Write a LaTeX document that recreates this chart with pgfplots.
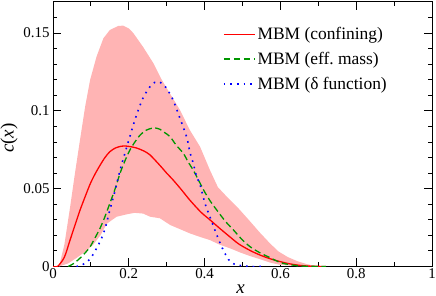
\documentclass[border=0pt]{standalone}
\usepackage{fontspec}
\setmainfont{Liberation Serif}
\usepackage{pgfplots}
\pgfplotsset{compat=1.18}
\usepgfplotslibrary{fillbetween}
\usetikzlibrary{calc}
\definecolor{bandpink}{RGB}{255,180,180}
\definecolor{mgreen}{RGB}{0,150,0}
\begin{document}
\begin{tikzpicture}
\begin{axis}[
  scale only axis, width=379bp, height=264.5bp,
  xmin=0, xmax=1, ymin=0, ymax=0.17,
  xtick={0,0.2,0.4,0.6,0.8,1}, xticklabels={0,0.2,0.4,0.6,0.8,1},
  minor xtick={0.1,0.3,0.5,0.7,0.9},
  ytick={0,0.05,0.1,0.15}, yticklabels={0,0.05,0.1,0.15},
  minor ytick={0.01,0.02,0.03,0.04,0.06,0.07,0.08,0.09,0.11,0.12,0.13,0.14,0.16},
  tick align=inside, major tick length=8bp, minor tick length=4bp,
  every tick/.style={black, line width=0.9bp},
  axis line style={line width=1bp},
  ticklabel style={font=\fontsize{15}{18}\selectfont},
  xticklabel style={inner sep=1.5bp},
  xlabel={\textit{x}}, ylabel={\textit{c}(\textit{x})},
  label style={font=\fontsize{19}{22}\selectfont},
  xlabel style={at={(axis description cs:0.495,0)}, anchor=base, yshift=-26.5bp},
  ylabel style={at={(axis description cs:-0.116,0.485)}, anchor=center},
  legend cell align=left,
  legend image code/.code={\draw[#1] (0bp,0bp) -- (31bp,0bp);},
  legend style={draw=none, fill=none, font=\fontsize{17.5}{20}\selectfont,
    at={(axis description cs:0.44,0.92)}, anchor=north west,
    row sep=7bp},
]
% band
\addplot[name path=up, draw=none, forget plot] coordinates {
(0.016,0) (0.03,0.014) (0.045,0.038) (0.058,0.060) (0.071,0.081) (0.085,0.103)
(0.098,0.120) (0.115,0.135) (0.133,0.1467) (0.15,0.152) (0.172,0.1546)
(0.185,0.1548) (0.2,0.153) (0.212,0.150) (0.238,0.141) (0.265,0.1306)
(0.287,0.120) (0.309,0.111) (0.335,0.1006) (0.361,0.0877) (0.388,0.077)
(0.414,0.062) (0.435,0.051) (0.46,0.0445) (0.487,0.038) (0.52,0.029)
(0.545,0.022) (0.57,0.0155) (0.594,0.0098) (0.62,0.006) (0.646,0.0033)
(0.67,0.0015) (0.69,0.0005) (0.71,0)};
\addplot[name path=lo, draw=none, forget plot] coordinates {
(0.016,0) (0.04,0.002) (0.062,0.0055) (0.085,0.0095) (0.106,0.014)
(0.125,0.020) (0.142,0.0275) (0.168,0.032) (0.194,0.0335) (0.215,0.0345)
(0.238,0.034) (0.256,0.032) (0.282,0.031) (0.309,0.0267) (0.335,0.024)
(0.361,0.0213) (0.388,0.019) (0.414,0.017) (0.44,0.014) (0.467,0.0117)
(0.494,0.009) (0.52,0.0067) (0.546,0.0047) (0.573,0.0025) (0.6,0.001)
(0.65,0.0002) (0.71,0)};
\addplot[fill=bandpink, draw=none, forget plot] fill between[of=up and lo];
% confining
\addplot[color=red, line width=1.3bp, smooth] coordinates {
(0,0) (0.012,0) (0.03,0.006) (0.045,0.017) (0.06,0.028) (0.071,0.036)
(0.085,0.045) (0.098,0.053) (0.11,0.059) (0.124,0.065) (0.137,0.070)
(0.15,0.0738) (0.165,0.0762) (0.18,0.0773) (0.19,0.0775) (0.2,0.0772)
(0.22,0.0762) (0.24,0.0742) (0.256,0.0717) (0.282,0.065) (0.3,0.060)
(0.317,0.0556) (0.34,0.049) (0.361,0.0427) (0.39,0.035) (0.414,0.030)
(0.44,0.0245) (0.467,0.019) (0.49,0.0145) (0.52,0.0103) (0.546,0.0074)
(0.57,0.0052) (0.6,0.0031) (0.625,0.0017) (0.652,0.0007) (0.68,0.0002) (0.72,0)};
\addlegendentry{MBM (confining)}
% eff mass
\addplot[color=mgreen, line width=1.3bp, dash pattern=on 6.5bp off 3.5bp, smooth] coordinates {
(0.04,0) (0.055,0.002) (0.071,0.0053) (0.085,0.0088) (0.098,0.0127)
(0.11,0.018) (0.124,0.0245) (0.137,0.032) (0.15,0.0406) (0.164,0.050)
(0.177,0.060) (0.19,0.068) (0.203,0.0749) (0.216,0.080) (0.23,0.0845)
(0.245,0.0875) (0.26,0.0888) (0.27,0.089) (0.282,0.0882) (0.295,0.086)
(0.309,0.0834) (0.325,0.078) (0.344,0.0727) (0.357,0.067) (0.37,0.062)
(0.385,0.055) (0.40,0.048) (0.415,0.042) (0.432,0.0363) (0.455,0.029)
(0.476,0.0235) (0.5,0.017) (0.52,0.0127) (0.546,0.0088) (0.57,0.006)
(0.6,0.0025) (0.625,0.0012) (0.65,0.0004) (0.68,0.0001) (0.72,0)};
\addlegendentry{MBM (eff.\ mass)}
% delta function
\addplot[color=blue, line width=1.6bp, dash pattern=on 1.6bp off 5bp, smooth] coordinates {
(0.062,0) (0.075,0.0008) (0.084,0.002) (0.098,0.0048) (0.115,0.0117)
(0.126,0.017) (0.137,0.024) (0.15,0.0363) (0.164,0.049) (0.177,0.062)
(0.19,0.073) (0.201,0.082) (0.218,0.0956) (0.237,0.108) (0.256,0.1156)
(0.269,0.1184) (0.278,0.1188) (0.288,0.1175) (0.298,0.115) (0.316,0.1075)
(0.335,0.0952) (0.353,0.083) (0.361,0.0738) (0.37,0.0663) (0.379,0.0577)
(0.388,0.0525) (0.401,0.0406) (0.414,0.032) (0.427,0.0235) (0.445,0.0127)
(0.463,0.0045) (0.478,0.0016) (0.495,0.0006) (0.52,0) (0.55,0)};
\addlegendentry{MBM (δ function)}
\end{axis}
\pgfresetboundingbox
\path ($(current axis.south west)+(-53bp,-29.5bp)$) rectangle ($(current axis.north east)+(4bp,2bp)$);
\end{tikzpicture}
\end{document}
